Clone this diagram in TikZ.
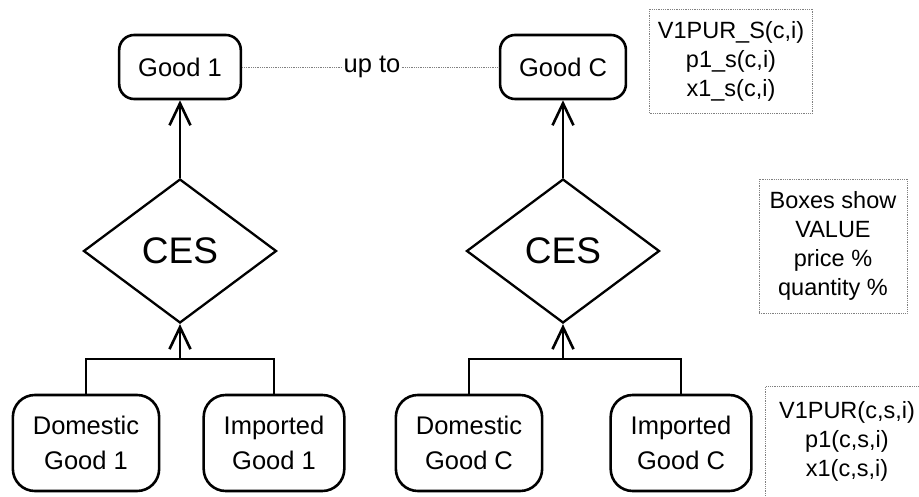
\documentclass[tikz,border=0pt]{standalone}
\usepackage{fontspec}
\setmainfont{Liberation Sans}
\usetikzlibrary{shapes,arrows.meta,positioning,calc}

\begin{document}
\begin{tikzpicture}[x=1pt, y=-1pt,
  good/.style={draw, line width=2.6pt, rounded corners=15pt, inner xsep=19pt, minimum height=64pt, font=\fontsize{25.5}{31}\selectfont},
  source/.style={draw, line width=2.6pt, rounded corners=22pt, inner xsep=20pt, minimum height=96pt, align=center, font=\fontsize{25.5}{35}\selectfont},
  ces/.style={draw, diamond, line width=2.3pt, minimum width=193pt, minimum height=144pt, inner sep=0pt, font=\fontsize{37}{40}\selectfont},
  frame/.style={draw=gray, densely dotted, line width=0.8pt},
  note/.style={frame, align=center, font=\fontsize{23.5}{29}\selectfont},
  wire/.style={line width=2.6pt},
  flow/.style={wire, -{Straight Barb[length=22pt, width=21pt]}}
]
  \useasboundingbox (0,0) rectangle (919,497);
  \node[good] (good1) at (180,67) {Good 1};
  \node[good] (goodC) at (563,67) {Good C};
  \node[font=\fontsize{25.5}{31}\selectfont, inner sep=1pt] (upto) at (372,67) {up to};
  \draw[frame] (good1.east) -- (upto.west);
  \draw[frame] (upto.east) -- (goodC.west);
  \node[ces] (ces1) at (180,251) {CES};
  \node[ces] (cesC) at (563,251) {CES};
  \node[source] (dom1) at (86,443) {Domestic\\Good 1};
  \node[source] (imp1) at (274,443) {Imported\\Good 1};
  \node[source] (domC) at (469,443) {Domestic\\Good C};
  \node[source] (impC) at (681,443) {Imported\\Good C};
  \coordinate (join1) at (180,359);
  \coordinate (joinC) at (563,359);
  \draw[wire] (dom1.north) |- (join1) -| (imp1.north);
  \draw[wire] (domC.north) |- (joinC) -| (impC.north);
  \draw[flow] (join1) -- (ces1.south);
  \draw[flow] (joinC) -- (cesC.south);
  \draw[flow] (ces1.north) -- (good1.south);
  \draw[flow] (cesC.north) -- (goodC.south);
  \node[note, minimum width=163pt, minimum height=104pt] (sinfo) at (731,61) {V1PUR\_S(c,i)\\p1\_s(c,i)\\x1\_s(c,i)};
  \node[note, minimum width=148pt, minimum height=134pt] (legend) at (833,246) {Boxes show\\VALUE\\price \%\\quantity \%};
  \node[note, draw=none, inner xsep=13pt, inner ysep=14pt] (pinfo) at (847,441) {V1PUR(c,s,i)\\p1(c,s,i)\\x1(c,s,i)};
  \draw[frame] ([yshift=-40pt]pinfo.south west) |- ([xshift=30pt]pinfo.north east);
\end{tikzpicture}
\end{document}
